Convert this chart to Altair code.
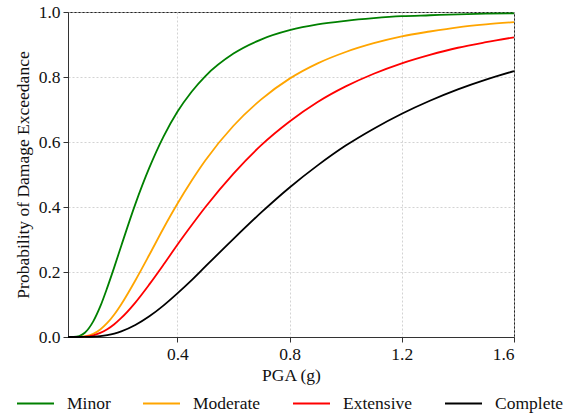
import altair as alt
import pandas as pd

pga = [0.01, 0.03, 0.05, 0.07, 0.1, 0.125, 0.15, 0.175, 0.2, 0.25, 0.3, 0.35, 0.4,
       0.45, 0.5, 0.6, 0.7, 0.8, 0.9, 1.0, 1.1, 1.2, 1.3, 1.4, 1.5, 1.6]
minor = [0.0, 0.0002, 0.003, 0.013, 0.048, 0.094, 0.152, 0.215, 0.281, 0.409, 0.521, 0.616, 0.693,
         0.754, 0.803, 0.872, 0.916, 0.944, 0.962, 0.973, 0.981, 0.987, 0.990, 0.993, 0.995, 0.996]
moderate = [0.0, 0.0, 0.0004, 0.002, 0.0099, 0.0233, 0.0433, 0.0694, 0.101, 0.174, 0.253, 0.334, 0.410,
            0.480, 0.544, 0.650, 0.732, 0.795, 0.842, 0.877, 0.904, 0.925, 0.940, 0.953, 0.962, 0.969]
extensive = [0.0, 0.0, 0.0002, 0.0011, 0.0052, 0.0125, 0.0239, 0.0393, 0.0586, 0.106, 0.162, 0.222, 0.284,
             0.343, 0.400, 0.503, 0.591, 0.663, 0.723, 0.771, 0.810, 0.842, 0.868, 0.890, 0.907, 0.922]
complete = [0.0, 0.0, 0.0, 0.0001, 0.0009, 0.0026, 0.0057, 0.0104, 0.0172, 0.0367, 0.0635, 0.0964, 0.134,
            0.174, 0.217, 0.302, 0.384, 0.460, 0.528, 0.589, 0.641, 0.687, 0.727, 0.762, 0.792, 0.818]

states = ["Minor", "Moderate", "Extensive", "Complete"]
colors = ["green", "orange", "red", "black"]
x_ticks = [0.4, 0.8, 1.2, 1.6]
y_ticks = [0.0, 0.2, 0.4, 0.6, 0.8, 1.0]

rows = []
for name, vals in zip(states, [minor, moderate, extensive, complete]):
    for x, y in zip(pga, vals):
        rows.append({"PGA": x, "P": y, "State": name})
df = pd.DataFrame(rows)

FONT = "Liberation Serif"

chart = alt.Chart(df).mark_line(strokeWidth=1.8, interpolate="monotone").encode(
    x=alt.X("PGA:Q", scale=alt.Scale(domain=[0.01, 1.6], nice=False, zero=False),
            axis=alt.Axis(title="PGA (g)", values=x_ticks, format=".1f")),
    y=alt.Y("P:Q", scale=alt.Scale(domain=[0, 1], nice=False),
            axis=alt.Axis(title="Probability of Damage Exceedance", values=y_ticks, format=".1f")),
    color=alt.Color("State:N", scale=alt.Scale(domain=states, range=colors),
                    legend=alt.Legend(title=None, orient="none", direction="horizontal",
                                      legendX=-52, legendY=372, symbolType="stroke",
                                      symbolSize=1369, symbolStrokeWidth=1.8,
                                      labelOffset=12, columnPadding=28,
                                      labelFont=FONT, labelFontSize=17.5, labelColor="#111")),
).properties(
    width=446, height=325,
    autosize=alt.AutoSizeParams(type="none"),
    padding={"left": 68, "top": 12, "right": 60, "bottom": 81},
).configure(
    font=FONT
).configure_view(
    stroke="#222", strokeWidth=1
).configure_axis(
    labelFont=FONT, titleFont=FONT, labelFontSize=17.5, titleFontSize=17.5,
    titleFontWeight="normal", labelColor="#111", titleColor="#111",
    grid=True, gridColor="#c8c8c8", gridDash=[2, 2], gridWidth=0.8,
    domainColor="#333", domainWidth=1, tickColor="#333", tickSize=5, tickWidth=1,
    labelPadding=3
).configure_axisY(
    titlePadding=6
).configure_axisX(
    titlePadding=4
)

chart.save("out.html", embed_options={"renderer": "svg", "actions": False})
